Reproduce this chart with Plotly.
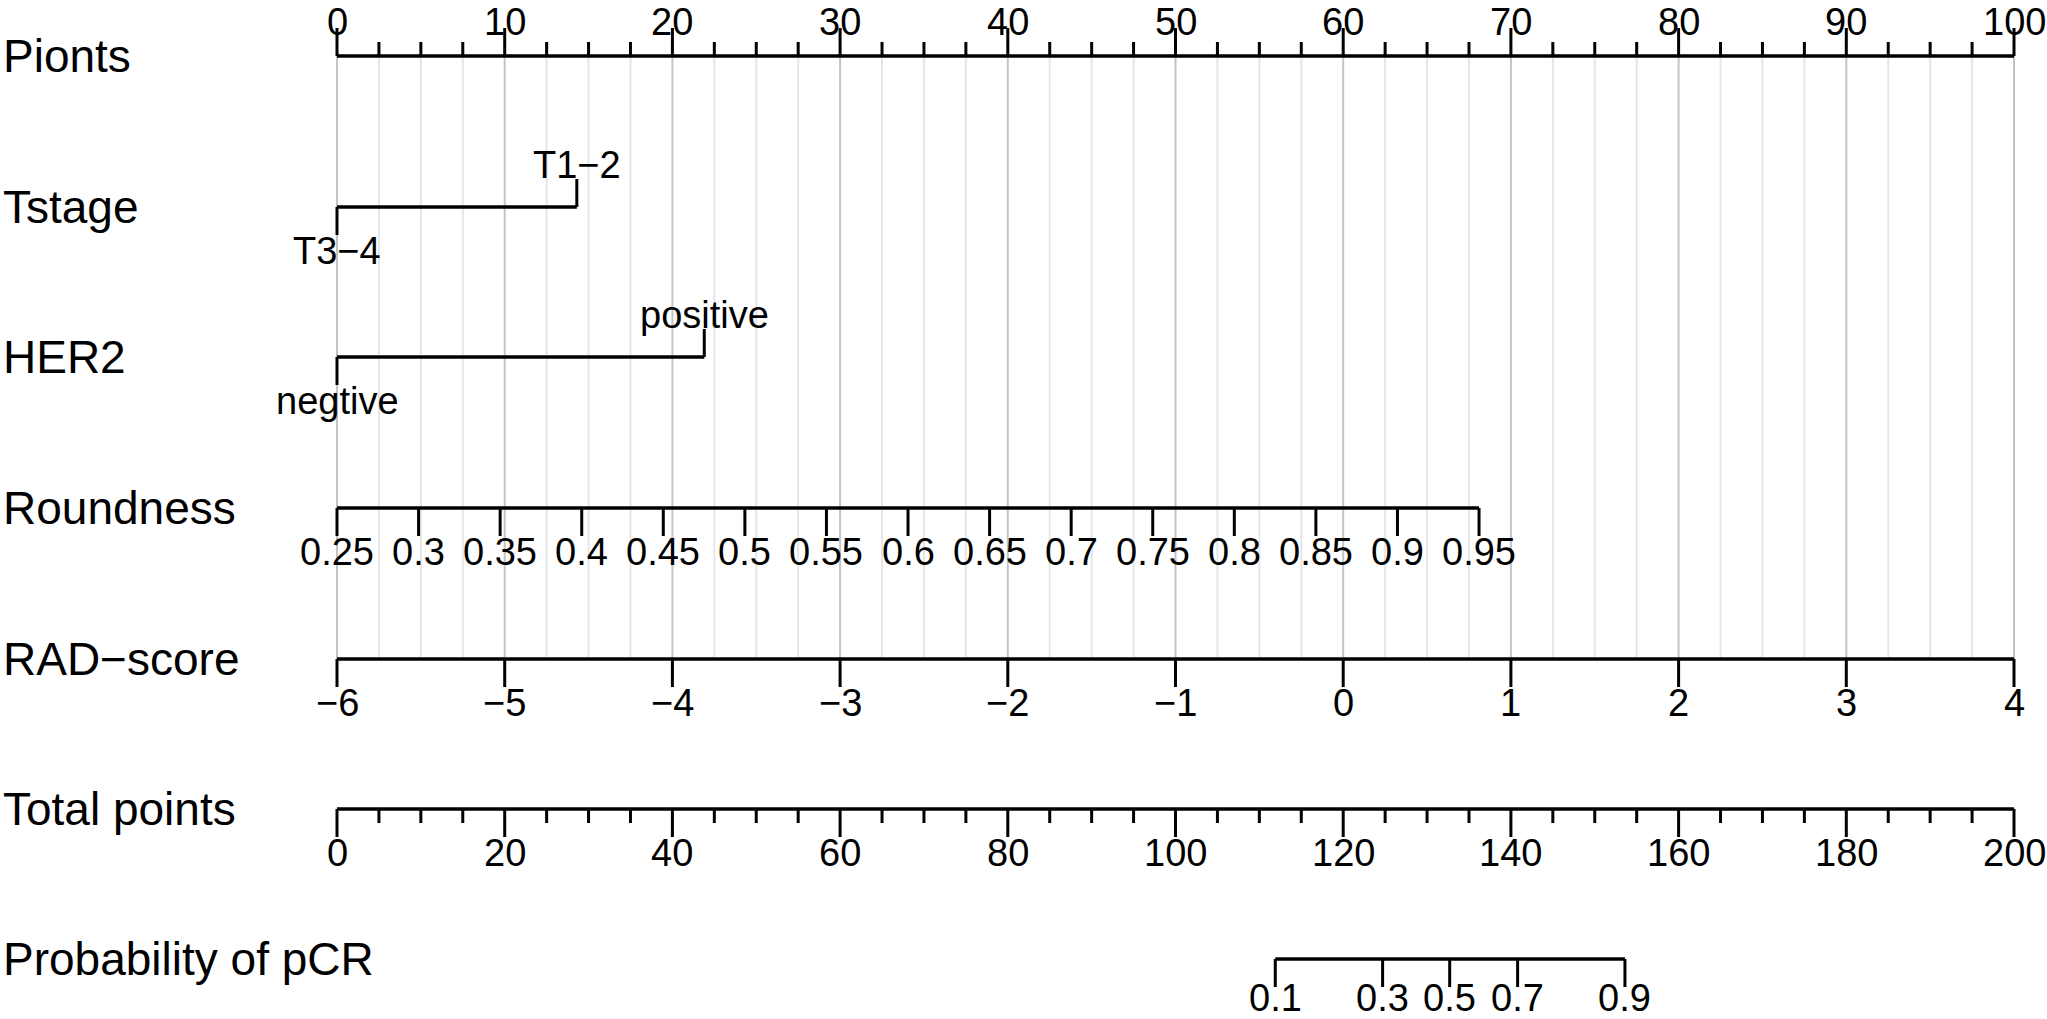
import plotly.graph_objects as go

# ---------------- data ----------------
row_labels = ["Pionts", "Tstage", "HER2", "Roundness", "RAD−score", "Total points", "Probability of pCR"]

points_major = [0, 10, 20, 30, 40, 50, 60, 70, 80, 90, 100]
points_minor = [2.5, 5, 7.5, 12.5, 15, 17.5, 22.5, 25, 27.5, 32.5, 35, 37.5, 42.5, 45, 47.5,
                52.5, 55, 57.5, 62.5, 65, 67.5, 72.5, 75, 77.5, 82.5, 85, 87.5, 92.5, 95, 97.5]

tstage_levels = ["T3−4", "T1−2"]
tstage_points = [0.0, 14.3]

her2_levels = ["negtive", "positive"]
her2_points = [0.0, 21.9]

roundness_ticks = [0.25, 0.3, 0.35, 0.4, 0.45, 0.5, 0.55, 0.6, 0.65, 0.7, 0.75, 0.8, 0.85, 0.9, 0.95]
roundness_labels = ["0.25", "0.3", "0.35", "0.4", "0.45", "0.5", "0.55", "0.6", "0.65", "0.7",
                    "0.75", "0.8", "0.85", "0.9", "0.95"]
roundness_range = [0.25, 0.95]
roundness_points_range = [0.0, 68.1]

rad_ticks = [-6, -5, -4, -3, -2, -1, 0, 1, 2, 3, 4]
rad_labels = ["−6", "−5", "−4", "−3", "−2", "−1", "0", "1", "2", "3", "4"]
rad_range = [-6, 4]
rad_points_range = [0.0, 100.0]

total_major = [0, 20, 40, 60, 80, 100, 120, 140, 160, 180, 200]
total_minor = [5, 10, 15, 25, 30, 35, 45, 50, 55, 65, 70, 75, 85, 90, 95, 105, 110, 115,
               125, 130, 135, 145, 150, 155, 165, 170, 175, 185, 190, 195]
total_range = [0, 200]

prob_ticks = ["0.1", "0.3", "0.5", "0.7", "0.9"]
prob_total_points = [111.9, 124.7, 132.7, 140.8, 153.6]

# ---------------- layout constants ----------------
W, H = 2047, 1019
PX0, PX100 = 337, 2014
ROW_Y = [56, 207, 357, 508, 659, 809, 959]
MAJ, MIN = 28, 14
FONT = "Arial, 'Liberation Sans', sans-serif"
TICK_FS = 38
ROW_FS = 46


def lin(v, dom, rng):
    return rng[0] + (v - dom[0]) / (dom[1] - dom[0]) * (rng[1] - rng[0])


def total_to_pts(t):
    return lin(t, total_range, [0, 100])


axis_x, axis_y = [], []
tick_x, tick_y = [], []
annots = []


def hline(x0, x1, y):
    axis_x.extend([x0, x1, None])
    axis_y.extend([y, y, None])


def tick(x, y, length):
    tick_x.extend([x, x, None])
    tick_y.extend([y, y + length, None])


def txt(x, y, text, yanchor):
    annots.append(dict(x=x, y=y, text=text, xanchor="center", yanchor=yanchor, borderpad=0,
                       showarrow=False, font=dict(size=TICK_FS, family=FONT, color="black")))


def label_below(x, y_end, text, shift=0):
    txt(x, y_end - 6 - shift, text, "top")


def label_above(x, y_end, text):
    txt(x, y_end + 8, text, "bottom")


# Points axis (ticks up, labels above, flush with the top edge)
y = ROW_Y[0]
hline(points_major[0], points_major[-1], y)
for p in points_major:
    tick(p, y, -MAJ)
    txt(p, 0, str(p), "top")
for p in points_minor:
    tick(p, y, -MIN)

# Tstage
y = ROW_Y[1]
hline(min(tstage_points), max(tstage_points), y)
tick(tstage_points[0], y, MAJ)
label_below(tstage_points[0], y + MAJ, tstage_levels[0])
tick(tstage_points[1], y, -MAJ)
label_above(tstage_points[1], y - MAJ, tstage_levels[1])

# HER2
y = ROW_Y[2]
hline(min(her2_points), max(her2_points), y)
tick(her2_points[0], y, MAJ)
label_below(her2_points[0], y + MAJ, her2_levels[0])
tick(her2_points[1], y, -MAJ)
label_above(her2_points[1], y - MAJ, her2_levels[1])

# Roundness
y = ROW_Y[3]
rp = [lin(v, roundness_range, roundness_points_range) for v in roundness_ticks]
hline(rp[0], rp[-1], y)
for p, t in zip(rp, roundness_labels):
    tick(p, y, MAJ)
    label_below(p, y + MAJ, t)

# RAD-score
y = ROW_Y[4]
rdp = [lin(v, rad_range, rad_points_range) for v in rad_ticks]
hline(rdp[0], rdp[-1], y)
for p, t in zip(rdp, rad_labels):
    tick(p, y, MAJ)
    label_below(p, y + MAJ, t)

# Total points
y = ROW_Y[5]
hline(total_to_pts(total_major[0]), total_to_pts(total_major[-1]), y)
for t in total_major:
    tick(total_to_pts(t), y, MAJ)
    label_below(total_to_pts(t), y + MAJ, str(t))
for t in total_minor:
    tick(total_to_pts(t), y, MIN)

# Probability (labels nudged up slightly so they stay inside the page)
y = ROW_Y[6]
pp = [total_to_pts(t) for t in prob_total_points]
hline(pp[0], pp[-1], y)
for p, t in zip(pp, prob_ticks):
    tick(p, y, MAJ)
    label_below(p, y + MAJ, t, shift=5)

# Row labels
for lab, ry in zip(row_labels, ROW_Y):
    annots.append(dict(xref="paper", x=2 / W, y=ry, text=lab, xanchor="left", yanchor="middle",
                       borderpad=0, showarrow=False,
                       font=dict(size=ROW_FS, family=FONT, color="black")))

# Grid lines (from Points axis down to RAD-score axis)
gmaj_x, gmaj_y, gmin_x, gmin_y = [], [], [], []
for p in points_major:
    gmaj_x.extend([p, p, None]); gmaj_y.extend([ROW_Y[0], ROW_Y[4], None])
for p in points_minor:
    gmin_x.extend([p, p, None]); gmin_y.extend([ROW_Y[0], ROW_Y[4], None])

fig = go.Figure()
fig.add_trace(go.Scatter(x=gmin_x, y=gmin_y, mode="lines", line=dict(color="#e6e6e6", width=2),
                         hoverinfo="skip", showlegend=False))
fig.add_trace(go.Scatter(x=gmaj_x, y=gmaj_y, mode="lines", line=dict(color="#c4c4c4", width=2),
                         hoverinfo="skip", showlegend=False))
fig.add_trace(go.Scatter(x=tick_x, y=tick_y, mode="lines", line=dict(color="black", width=3),
                         hoverinfo="skip", showlegend=False))
fig.add_trace(go.Scatter(x=axis_x, y=axis_y, mode="lines", line=dict(color="black", width=3.5),
                         hoverinfo="skip", showlegend=False))

scale = (PX100 - PX0) / 100.0
fig.update_layout(
    width=W, height=H,
    margin=dict(l=0, r=0, t=0, b=0),
    paper_bgcolor="white", plot_bgcolor="white",
    xaxis=dict(range=[-PX0 / scale, 100 + (W - PX100) / scale], visible=False, fixedrange=True),
    yaxis=dict(range=[H, 0], visible=False, fixedrange=True),
    annotations=annots,
    showlegend=False,
)

fig.write_html(
    "out.html",
    config={"displayModeBar": False},
    post_script="document.body.style.margin='0';document.body.style.overflow='hidden';",
)
